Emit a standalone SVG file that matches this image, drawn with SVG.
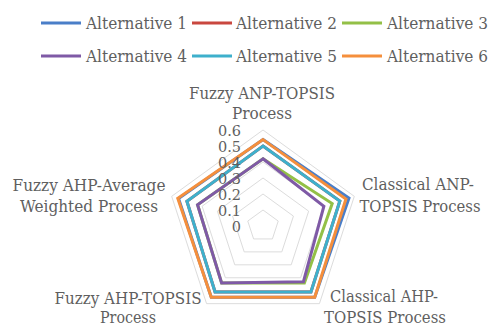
<svg xmlns="http://www.w3.org/2000/svg" width="491" height="326" viewBox="0 0 491 326">
  <style>
    text { font-family: "DejaVu Serif", "Liberation Serif", serif; fill: #5f5f5f; }
    .lbl { font-size: 16px; text-anchor: middle; }
    .leg { font-size: 16px; }
    .tick { font-size: 14.5px; text-anchor: end; }
    .grid { fill: none; stroke: #dcdcdc; stroke-width: 1; }
    .ser { fill: none; stroke-width: 3; stroke-linejoin: miter; }
    .legline { stroke-width: 3; }
    .a1 { stroke: #4a7ec8; }
    .a2 { stroke: #c9473f; }
    .a3 { stroke: #93c047; }
    .a4 { stroke: #7f5aa6; }
    .a5 { stroke: #3eb0cc; }
    .a6 { stroke: #f58f3c; }
  </style>
  <rect width="491" height="326" fill="#ffffff"/>

  <!-- legend -->
  <g id="legend" font-family="DejaVu Serif, serif">
    <line class="legline a1" x1="41" y1="23" x2="81" y2="23"/>
    <text class="leg" x="86" y="29" textLength="101" lengthAdjust="spacingAndGlyphs">Alternative 1</text>
    <line class="legline a2" x1="192" y1="23" x2="232" y2="23"/>
    <text class="leg" x="236" y="29" textLength="101" lengthAdjust="spacingAndGlyphs">Alternative 2</text>
    <line class="legline a3" x1="342" y1="23" x2="382" y2="23"/>
    <text class="leg" x="387" y="29" textLength="101" lengthAdjust="spacingAndGlyphs">Alternative 3</text>
    <line class="legline a4" x1="41" y1="56" x2="81" y2="56"/>
    <text class="leg" x="86" y="62" textLength="101" lengthAdjust="spacingAndGlyphs">Alternative 4</text>
    <line class="legline a5" x1="192" y1="56" x2="232" y2="56"/>
    <text class="leg" x="236" y="62" textLength="101" lengthAdjust="spacingAndGlyphs">Alternative 5</text>
    <line class="legline a6" x1="342" y1="56" x2="382" y2="56"/>
    <text class="leg" x="387" y="62" textLength="101" lengthAdjust="spacingAndGlyphs">Alternative 6</text>
  </g>

  <!-- radar gridlines, 0.1 to 0.6 -->
  <g id="grid">
    <polygon class="grid" points="263,210 278.22,221.06 272.40,238.94 253.60,238.94 247.78,221.06"/>
    <polygon class="grid" points="263,194 293.43,216.11 281.81,251.89 244.19,251.89 232.57,216.11"/>
    <polygon class="grid" points="263,178 308.65,211.17 291.21,264.83 234.79,264.83 217.35,211.17"/>
    <polygon class="grid" points="263,162 323.87,206.22 300.62,277.78 225.38,277.78 202.13,206.22"/>
    <polygon class="grid" points="263,146 339.09,201.28 310.02,290.72 215.98,290.72 186.91,201.28"/>
    <polygon class="grid" points="263,130 354.30,196.33 319.43,303.67 206.57,303.67 171.70,196.33"/>
  </g>

  <!-- data series -->
  <g id="series">
    <polygon id="alt1" class="ser a1" points="263,139.6 348.98,198.07 314.73,297.19 211.27,297.19 178.54,198.56"/>
    <polygon id="alt2" class="ser a2" points="263,146 339.85,201.03 310.96,292.01 215.04,292.01 186.91,201.28"/>
    <polygon id="alt3" class="ser a3" points="263,158.8 332.2,203.5 304.4,282.9 221.62,282.95 197.56,204.74"/>
    <polygon id="alt4" class="ser a4" points="263,158.8 323.87,206.22 303.44,281.66 221.62,282.95 197.56,204.74"/>
    <polygon id="alt5" class="ser a5" points="263,146 339.85,201.03 310.96,292.01 215.04,292.01 186.91,201.28"/>
    <polygon id="alt6" class="ser a6" points="263,139.6 345.94,199.06 314.73,297.19 211.27,297.19 177.78,198.31"/>
  </g>

  <!-- scale values -->
  <g id="scale">
    <text class="tick" x="241" y="136">0.6</text>
    <text class="tick" x="241" y="152">0.5</text>
    <text class="tick" x="241" y="168">0.4</text>
    <text class="tick" x="241" y="184">0.3</text>
    <text class="tick" x="241" y="200">0.2</text>
    <text class="tick" x="241" y="216">0.1</text>
    <text class="tick" x="241" y="232">0</text>
  </g>

  <!-- axis labels -->
  <g id="axis-fuzzy-anp-topsis">
    <text class="lbl" x="262" y="99" textLength="146" lengthAdjust="spacingAndGlyphs">Fuzzy ANP-TOPSIS</text>
    <text class="lbl" x="262" y="119" textLength="60" lengthAdjust="spacingAndGlyphs">Process</text>
  </g>
  <g id="axis-classical-anp-topsis">
    <text class="lbl" x="418" y="190" textLength="112" lengthAdjust="spacingAndGlyphs">Classical ANP-</text>
    <text class="lbl" x="420" y="212" textLength="121" lengthAdjust="spacingAndGlyphs">TOPSIS Process</text>
  </g>
  <g id="axis-classical-ahp-topsis">
    <text class="lbl" x="384" y="302" textLength="108" lengthAdjust="spacingAndGlyphs">Classical AHP-</text>
    <text class="lbl" x="385" y="323" textLength="122" lengthAdjust="spacingAndGlyphs">TOPSIS Process</text>
  </g>
  <g id="axis-fuzzy-ahp-topsis">
    <text class="lbl" x="128" y="304" textLength="147" lengthAdjust="spacingAndGlyphs">Fuzzy AHP-TOPSIS</text>
    <text class="lbl" x="128" y="323" textLength="56" lengthAdjust="spacingAndGlyphs">Process</text>
  </g>
  <g id="axis-fuzzy-ahp-average">
    <text class="lbl" x="89" y="191" textLength="153" lengthAdjust="spacingAndGlyphs">Fuzzy AHP-Average</text>
    <text class="lbl" x="89" y="212" textLength="138" lengthAdjust="spacingAndGlyphs">Weighted Process</text>
  </g>
</svg>
